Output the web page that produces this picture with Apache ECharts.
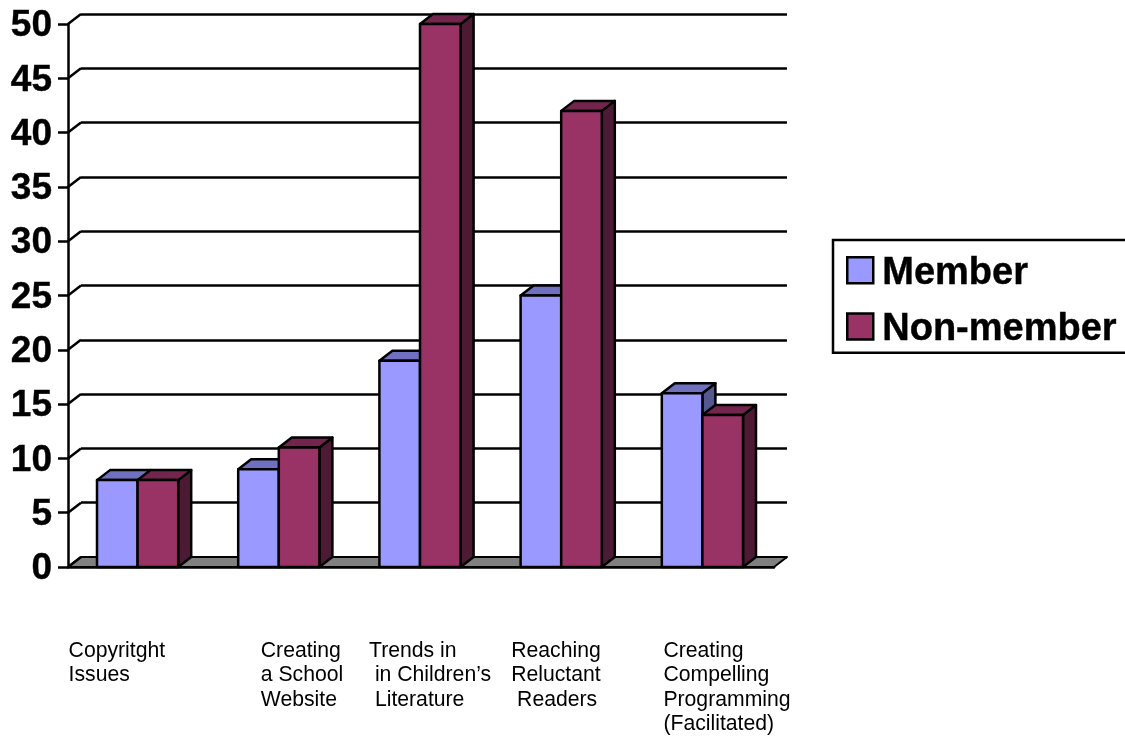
<!DOCTYPE html>
<html>
<head>
<meta charset="utf-8">
<style>
html,body{margin:0;padding:0;background:#fff;}
#chart{width:1125px;height:739px;}
</style>
<script src="https://cdn.jsdelivr.net/npm/echarts@6/dist/echarts.min.js"></script>
</head>
<body>
<div id="chart"></div>
<script>
// Workshop interest by membership status
const categories = [
  'Copyritght\nIssues',
  'Creating\na School\nWebsite',
  'Trends in\n in Children\u2019s\n Literature',
  'Reaching\nReluctant\n Readers',
  'Creating\nCompelling\nProgramming\n(Facilitated)'
];
const memberValues = [8, 9, 19, 25, 16];
const nonMemberValues = [8, 11, 50, 42, 14];
const valueTicks = [0, 5, 10, 15, 20, 25, 30, 35, 40, 45, 50];

// Horizontal start of each category caption, relative to its band centre
const captionShift = [-70, -19, -52, -51, -40];

const FONT = '"Liberation Sans", Arial, sans-serif';
const DEPTH_X = 13;
const DEPTH_Y = 10;
const BAR_RATIO = 0.2875;
const LINE_W = 2.5;
const STROKE = { stroke: '#000', lineWidth: LINE_W, lineJoin: 'round' };

// Draws one extruded bar: front face, top face and right side face
function barRenderer(slot, front, top, side) {
  return function (params, api) {
    const idx = api.value(0);
    const val = api.value(1);
    const base = api.coord([idx, 0]);
    const head = api.coord([idx, val]);
    const w = api.size([1, 0])[0] * BAR_RATIO;
    const x0 = base[0] - 1 + slot * w;
    const x1 = x0 + w;
    const yT = head[1];
    const yB = base[1];
    return {
      type: 'group',
      children: [
        { type: 'polygon', shape: { points: [[x1, yT], [x1 + DEPTH_X, yT - DEPTH_Y], [x1 + DEPTH_X, yB - DEPTH_Y], [x1, yB]] },
          style: Object.assign({ fill: side }, STROKE) },
        { type: 'polygon', shape: { points: [[x0, yT], [x0 + DEPTH_X, yT - DEPTH_Y], [x1 + DEPTH_X, yT - DEPTH_Y], [x1, yT]] },
          style: Object.assign({ fill: top }, STROKE) },
        { type: 'rect', shape: { x: x0, y: yT, width: w, height: yB - yT },
          style: Object.assign({ fill: front }, STROKE) }
      ]
    };
  };
}

const chart = echarts.init(document.getElementById('chart'), null, { renderer: 'canvas' });

chart.setOption({
  animation: false,
  backgroundColor: '#fff',
  legend: {
    data: ['Member', 'Non-member'],
    orient: 'vertical',
    left: 833,
    top: 240,
    padding: [14, 24, 4, 13],
    itemWidth: 26,
    itemHeight: 26,
    itemGap: 18,
    borderColor: '#000',
    borderWidth: LINE_W,
    backgroundColor: '#fff',
    icon: 'rect',
    selectedMode: false,
    itemStyle: { borderColor: '#000', borderWidth: LINE_W },
    formatter: '{t|{name}}',
    textStyle: {
      rich: {
        t: { fontFamily: FONT, fontSize: 38, fontWeight: 'bold', color: '#000', padding: [6, 0, 0, 4], textBorderColor: '#000', textBorderWidth: 0.4 }
      }
    }
  },
  grid: [
    { left: 68, top: 24, width: 706, height: 543 },
    { left: 81, top: 14, width: 706, height: 543 }
  ],
  xAxis: [
    {
      gridIndex: 0,
      type: 'category',
      data: categories,
      boundaryGap: true,
      axisLine: { show: true, lineStyle: { color: '#000', width: LINE_W } },
      axisTick: { show: false },
      axisLabel: { show: false },
      splitLine: { show: false }
    },
    { gridIndex: 1, type: 'value', min: 0, max: 1, show: false }
  ],
  yAxis: [
    {
      gridIndex: 0,
      type: 'value',
      min: 0,
      max: 50,
      interval: 5,
      axisLine: { show: true, lineStyle: { color: '#000', width: LINE_W } },
      axisTick: { show: true, length: 10, lineStyle: { color: '#000', width: LINE_W } },
      axisLabel: {
        margin: 16,
        formatter: '{t|{value}}',
        rich: {
          t: { padding: [4, 0, 0, 0], fontFamily: FONT, fontSize: 37, fontWeight: 'bold', color: '#000', textBorderColor: '#000', textBorderWidth: 0.4 }
        }
      },
      splitLine: { show: false }
    },
    {
      // Back wall of the plot, offset up and to the right of the front axes
      gridIndex: 1,
      type: 'value',
      min: 0,
      max: 50,
      interval: 5,
      axisLine: { show: false },
      axisTick: { show: false },
      axisLabel: { show: false },
      splitLine: { show: true, lineStyle: { color: '#000', width: LINE_W } }
    }
  ],
  series: [
    {
      // Grey floor of the plot
      name: 'floor',
      type: 'custom',
      silent: true,
      xAxisIndex: 0,
      yAxisIndex: 0,
      z: 1,
      data: [[0, 0]],
      renderItem: function (params) {
        const c = params.coordSys;
        const yB = c.y + c.height;
        const xR = c.x + c.width;
        return {
          type: 'polygon',
          shape: { points: [[c.x, yB], [c.x + DEPTH_X, yB - DEPTH_Y], [xR + DEPTH_X, yB - DEPTH_Y], [xR, yB]] },
          style: Object.assign({ fill: '#808080' }, STROKE, { lineWidth: 2 })
        };
      }
    },
    {
      // Slanted links from each front tick to its back wall line
      name: 'links',
      type: 'custom',
      silent: true,
      xAxisIndex: 0,
      yAxisIndex: 0,
      z: 1,
      data: valueTicks.map(function (v) { return [0, v]; }),
      renderItem: function (params, api) {
        const y = api.coord([0, api.value(1)])[1];
        const x = params.coordSys.x;
        return {
          type: 'line',
          shape: { x1: x, y1: y, x2: x + DEPTH_X, y2: y - DEPTH_Y },
          style: { stroke: '#000', lineWidth: LINE_W }
        };
      }
    },
    {
      name: 'Member',
      type: 'custom',
      xAxisIndex: 0,
      yAxisIndex: 0,
      z: 3,
      itemStyle: { color: '#9999FF' },
      data: memberValues.map(function (v, i) { return [i, v]; }),
      renderItem: barRenderer(-1, '#9999FF', '#7070C0', '#55578F')
    },
    {
      name: 'Non-member',
      type: 'custom',
      xAxisIndex: 0,
      yAxisIndex: 0,
      z: 4,
      itemStyle: { color: '#993366' },
      data: nonMemberValues.map(function (v, i) { return [i, v]; }),
      renderItem: barRenderer(0, '#993366', '#73264D', '#4D1A33')
    },
    {
      // Category captions, placed below the plot
      name: 'captions',
      type: 'custom',
      silent: true,
      xAxisIndex: 0,
      yAxisIndex: 0,
      z: 5,
      data: categories.map(function (c, i) { return [i, 0]; }),
      renderItem: function (params, api) {
        const i = api.value(0);
        const p = api.coord([i, 0]);
        return {
          type: 'text',
          x: p[0] + captionShift[i],
          y: p[1] + 72,
          style: {
            text: categories[i],
            fontFamily: FONT,
            fontSize: 21.2,
            lineHeight: 24.4,
            fill: '#000',
            align: 'left',
            verticalAlign: 'top'
          }
        };
      }
    }
  ]
});
</script>
</body>
</html>
